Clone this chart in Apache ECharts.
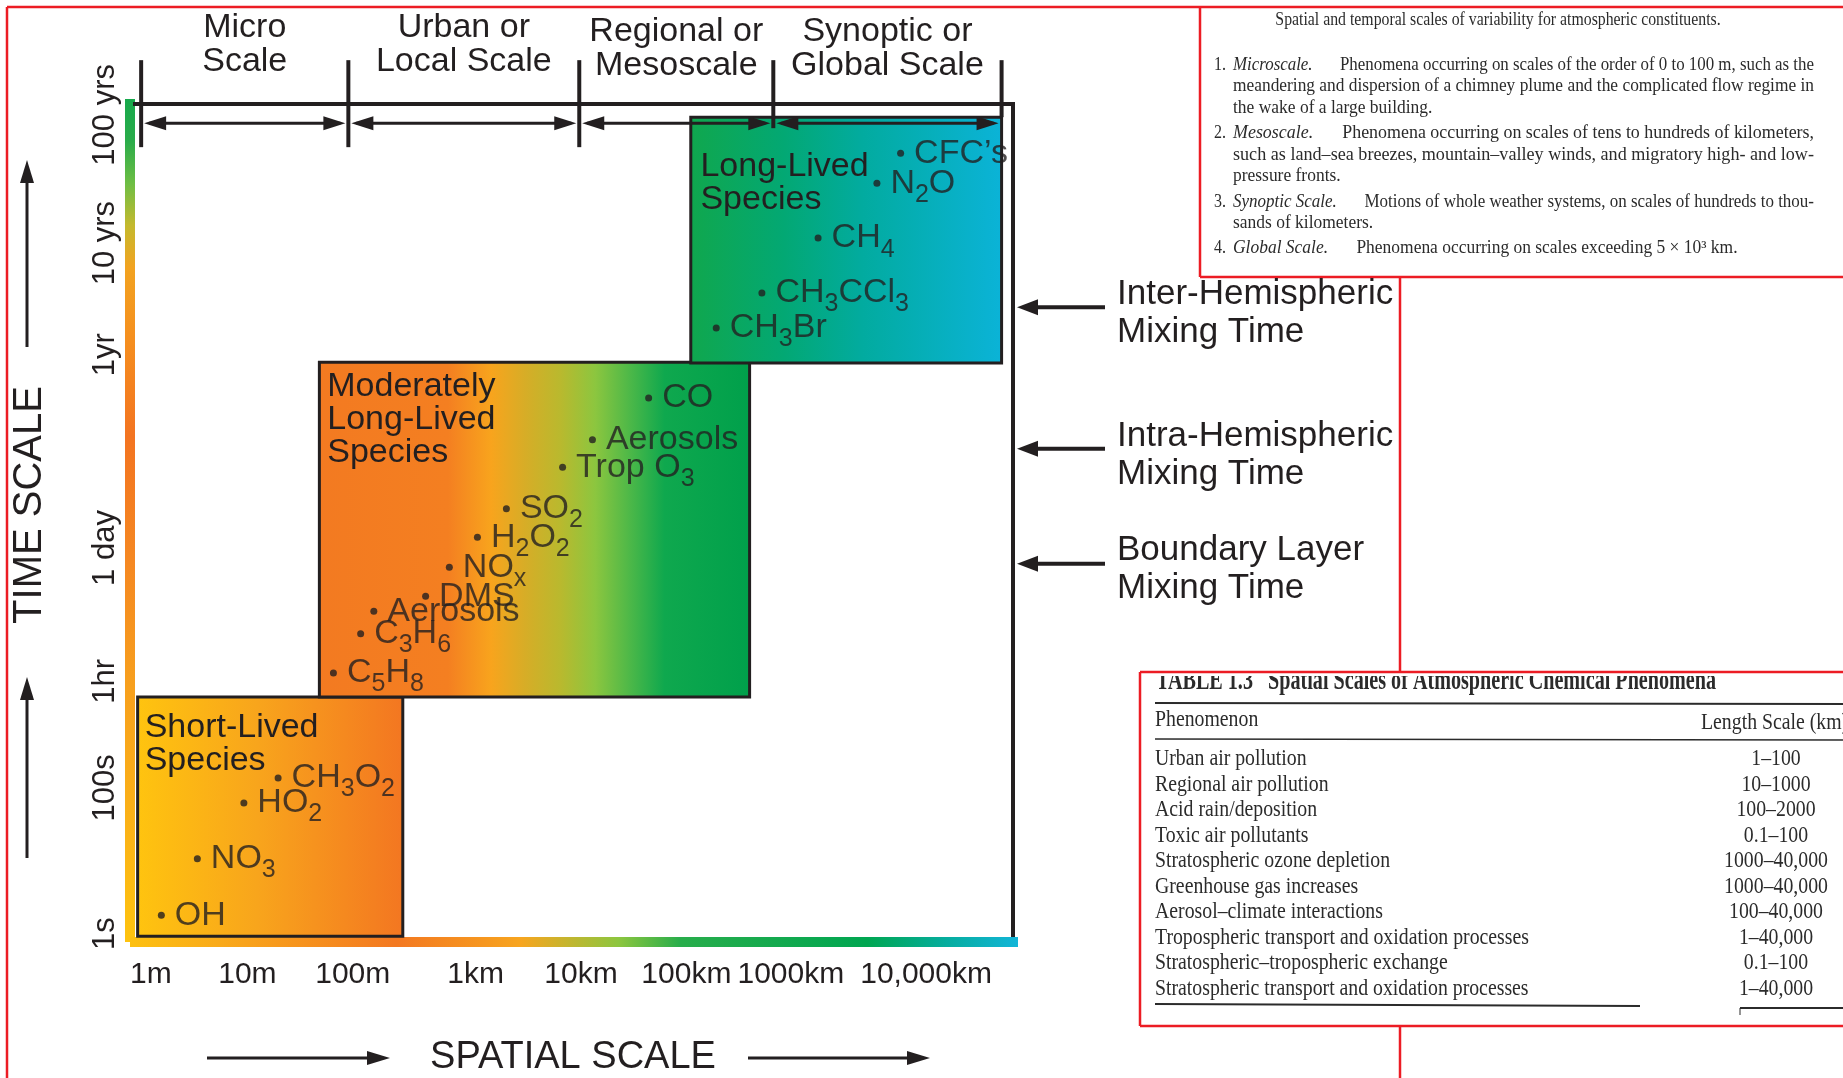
<!DOCTYPE html>
<html>
<head>
<meta charset="utf-8">
<title>Spatial and temporal scales of atmospheric constituents</title>
<script src="https://cdn.jsdelivr.net/npm/echarts@6.0.0/dist/echarts.min.js"></script>
<style>
  html, body { margin: 0; padding: 0; background: #fff; }
  #main { width: 1843px; height: 1078px; }
</style>
</head>
<body>
<div id="main"></div>
<script>
// chart units: x = spatial position across the frame (0..100), y = time position (0..100)
const xTickPos = [1.8, 12.8, 24.8, 38.8, 50.8, 62.8, 74.7, 90.1];
const xTickLabels = ['1m', '10m', '100m', '1km', '10km', '100km', '1000km', '10,000km'];
const yTickPos = [0.4, 17.9, 30.7, 46.7, 69.9, 83.3, 98.7];
const yTickLabels = ['1s', '100s', '1hr', '1 day', '1yr', '10 yrs', '100 yrs'];

const scaleNames = ['Micro\nScale', 'Urban or\nLocal Scale', 'Regional or\nMesoscale', 'Synoptic or\nGlobal Scale'];
const scaleEdges = [0.7, 24.3, 50.6, 72.7, 98.7];
const scaleLevel = 97.7;

const groupNames = ['Short-Lived\nSpecies', 'Moderately\nLong-Lived\nSpecies', 'Long-Lived\nSpecies'];
const groupX0 = [0.3, 21.0, 63.3];
const groupX1 = [30.5, 70.0, 98.7];
const groupY0 = [0.1, 28.8, 68.9];
const groupY1 = [28.8, 69.0, 98.4];
const groupLabelX = [1.1, 21.9, 64.4];
const groupLabelY = [27.1, 68.1, 94.5];

const speciesNames = [
  'CFC\u2019s', 'N{s|2}O', 'CH{s|4}', 'CH{s|3}CCl{s|3}', 'CH{s|3}Br',
  'CO', 'Aerosols', 'Trop O{s|3}', 'SO{s|2}', 'H{s|2}O{s|2}', 'NO{s|x}', 'DMS', 'Aerosols', 'C{s|3}H{s|6}', 'C{s|5}H{s|8}',
  'CH{s|3}O{s|2}', 'HO{s|2}', 'NO{s|3}', 'OH'
];
const speciesX = [87.2, 84.5, 77.8, 71.4, 66.2, 58.5, 52.1, 48.7, 42.3, 39.0, 35.8, 33.1, 27.2, 25.7, 22.6, 16.3, 12.4, 7.1, 3.0];
const speciesY = [94.1, 90.5, 83.9, 77.3, 73.1, 64.7, 59.7, 56.4, 51.4, 48.0, 44.4, 40.9, 39.1, 36.4, 31.7, 19.1, 16.1, 9.4, 2.6];

const mixingNames = ['Inter-Hemispheric\nMixing Time', 'Intra-Hemispheric\nMixing Time', 'Boundary Layer\nMixing Time'];
const mixingLevel = [75.6, 58.6, 44.8];

const defCaption = 'Spatial and temporal scales of variability for atmospheric constituents.';
const defLines = [
  { num: '1.', term: 'Microscale.', text: 'Phenomena occurring on scales of the order of 0 to 100 m, such as the', justify: true },
  { text: 'meandering and dispersion of a chimney plume and the complicated flow regime in', justify: true },
  { text: 'the wake of a large building.' },
  { num: '2.', term: 'Mesoscale.', text: 'Phenomena occurring on scales of tens to hundreds of kilometers,', justify: true },
  { text: 'such as land\u2013sea breezes, mountain\u2013valley winds, and migratory high- and low-', justify: true },
  { text: 'pressure fronts.' },
  { num: '3.', term: 'Synoptic Scale.', text: 'Motions of whole weather systems, on scales of hundreds to thou-', justify: true },
  { text: 'sands of kilometers.' },
  { num: '4.', term: 'Global Scale.', text: 'Phenomena occurring on scales exceeding 5 \u00d7 10\u00b3 km.' }
];
const defParagraph = [0, 0, 0, 1, 1, 1, 2, 2, 3];

const tableTitle = 'TABLE 1.3   Spatial Scales of Atmospheric Chemical Phenomena';
const tablePhenomena = [
  'Urban air pollution', 'Regional air pollution', 'Acid rain/deposition', 'Toxic air pollutants',
  'Stratospheric ozone depletion', 'Greenhouse gas increases', 'Aerosol\u2013climate interactions',
  'Tropospheric transport and oxidation processes', 'Stratospheric\u2013tropospheric exchange',
  'Stratospheric transport and oxidation processes'
];
const tableLengths = ['1\u2013100', '10\u20131000', '100\u20132000', '0.1\u2013100', '1000\u201340,000', '1000\u201340,000',
  '100\u201340,000', '1\u201340,000', '0.1\u2013100', '1\u201340,000'];

const sans = "'Liberation Sans', Arial, Helvetica, sans-serif";
const serif = "'Liberation Serif', 'Times New Roman', Times, serif";
const ink = '#231f20';
const red = '#ec1c24';
const paper = '#2b2b2b';

const hGradient = new echarts.graphic.LinearGradient(0, 0, 1, 0, [
  { offset: 0, color: '#fdc010' }, { offset: 0.1, color: '#f9aa1a' }, { offset: 0.3, color: '#f37821' },
  { offset: 0.4, color: '#f6971f' }, { offset: 0.44, color: '#f7a51f' }, { offset: 0.55, color: '#8dc63f' },
  { offset: 0.62, color: '#28ad4b' }, { offset: 0.83, color: '#00a651' }, { offset: 0.92, color: '#06ad9f' },
  { offset: 1, color: '#12b5d8' }
]);
const vGradient = new echarts.graphic.LinearGradient(0, 1, 0, 0, [
  { offset: 0, color: '#fec30f' }, { offset: 0.12, color: '#fbb416' }, { offset: 0.3, color: '#f7a01d' },
  { offset: 0.45, color: '#f58822' }, { offset: 0.6, color: '#f37421' }, { offset: 0.72, color: '#f5901f' },
  { offset: 0.8, color: '#f2a320' }, { offset: 0.85, color: '#c4b92e' }, { offset: 0.9, color: '#6dbe44' },
  { offset: 0.95, color: '#2aac4a' }, { offset: 1, color: '#17a94c' }
]);
const boxStops = [
  [{ offset: 0, color: '#ffc40f' }, { offset: 0.45, color: '#f8a51c' }, { offset: 1, color: '#f37621' }],
  [{ offset: 0, color: '#f37a21' }, { offset: 0.3, color: '#f47f21' }, { offset: 0.4, color: '#f8a41d' },
   { offset: 0.48, color: '#d6ad27' }, { offset: 0.56, color: '#b9b92e' }, { offset: 0.64, color: '#8cc63f' },
   { offset: 0.72, color: '#4db848' }, { offset: 0.8, color: '#0fa84e' }, { offset: 1, color: '#00a04b' }],
  [{ offset: 0, color: '#10a74d' }, { offset: 0.3, color: '#03a873' }, { offset: 0.55, color: '#02ab9f' },
   { offset: 1, color: '#0bb3d8' }]
];

const measureCtx = document.createElement('canvas').getContext('2d');
function textWidth(str, font) {
  measureCtx.font = font;
  return measureCtx.measureText(str).width;
}
function nearestLabel(v, pos, labels) {
  let best = 0;
  pos.forEach((p, i) => { if (Math.abs(p - v) < Math.abs(pos[best] - v)) best = i; });
  return labels[best];
}

// scanned text panels on the right
const graphics = [];
const defFont = '16px ' + serif;
const defItalic = 'italic 16px ' + serif;
const termGap = 26;
const defWidths = defLines.map(l => (l.term ? textWidth(l.term, defItalic) + termGap : 0) + textWidth(l.text, defFont));
const justified = defLines.map((l, i) => l.justify ? 581 / defWidths[i] : null).filter(v => v);
const meanSquash = justified.reduce((a, b) => a + b, 0) / justified.length;

graphics.push({
  type: 'text', x: 1498, y: 20, scaleY: 1.15,
  style: { text: defCaption, font: '15.8px ' + serif, fill: paper, align: 'center', verticalAlign: 'middle' }
});
defLines.forEach((l, k) => {
  const y = 65 + 21.6 * k + 3.6 * defParagraph[k];
  if (l.num) {
    graphics.push({ type: 'text', x: 1214, y: y, scaleY: 1.15,
      style: { text: l.num, font: defFont, fill: paper, verticalAlign: 'middle' } });
  }
  graphics.push({
    type: 'text', x: 1233, y: y, scaleX: l.justify ? 581 / defWidths[k] : meanSquash, scaleY: 1.15,
    style: {
      text: (l.term ? '{i|' + l.term + '}' : '') + l.text,
      font: defFont, fill: paper, verticalAlign: 'middle',
      rich: { i: { fontFamily: serif, fontSize: 16, fontStyle: 'italic', fill: paper, padding: [0, termGap, 0, 0] } }
    }
  });
});

// table panel (title is cut off by the top of the frame, as in the scan)
const tFont = '19.8px ' + serif;
graphics.push({
  type: 'text', x: 1156, y: 681, scaleX: 560 / textWidth(tableTitle, 'bold 19px ' + serif), scaleY: 1.6, z: 1,
  style: { text: tableTitle, font: 'bold 19px ' + serif, fill: paper, verticalAlign: 'middle' }
});
graphics.push({ type: 'rect', z: 2, shape: { x: 1142, y: 630, width: 720, height: 46 }, style: { fill: '#fff' } });
graphics.push({ type: 'line', shape: { x1: 1155, y1: 703, x2: 1850, y2: 704 }, style: { stroke: paper, lineWidth: 2 } });
graphics.push({ type: 'line', shape: { x1: 1155, y1: 739, x2: 1850, y2: 740 }, style: { stroke: paper, lineWidth: 1.6 } });
graphics.push({ type: 'text', x: 1155, y: 720, scaleY: 1.2, style: { text: 'Phenomenon', font: tFont, fill: paper, verticalAlign: 'middle' } });
graphics.push({ type: 'text', x: 1701, y: 723, scaleY: 1.2, style: { text: 'Length Scale (km)', font: tFont, fill: paper, verticalAlign: 'middle' } });
tablePhenomena.forEach((name, r) => {
  const y = 759 + 25.5 * r;
  graphics.push({ type: 'text', x: 1155, y: y, scaleY: 1.2, style: { text: name, font: tFont, fill: paper, verticalAlign: 'middle' } });
  graphics.push({ type: 'text', x: 1776, y: y, scaleY: 1.2, style: { text: tableLengths[r], font: tFont, fill: paper, align: 'center', verticalAlign: 'middle' } });
});
graphics.push({ type: 'line', shape: { x1: 1155, y1: 1004, x2: 1640, y2: 1006 }, style: { stroke: paper, lineWidth: 2 } });
graphics.push({ type: 'line', shape: { x1: 1740, y1: 1008, x2: 1850, y2: 1008 }, style: { stroke: paper, lineWidth: 2 } });
graphics.push({ type: 'line', shape: { x1: 1740, y1: 1008, x2: 1740, y2: 1015 }, style: { stroke: paper, lineWidth: 1 } });

// red frames
const redLine = (x1, y1, x2, y2) => ({ type: 'line', z: 5, shape: { x1, y1, x2, y2 }, style: { stroke: red, lineWidth: 2.5 } });
graphics.push(redLine(7, 7, 1850, 7), redLine(7, 7, 7, 1085), redLine(1400, 277, 1400, 672), redLine(1400, 1026, 1400, 1085));
graphics.push(redLine(1200, 7, 1200, 277), redLine(1200, 277, 1850, 277));
graphics.push(redLine(1140, 672, 1850, 672), redLine(1140, 672, 1140, 1026), redLine(1140, 1026, 1850, 1026));

// axis titles with arrows
const arrowHead = (pts) => ({ type: 'polygon', shape: { points: pts }, style: { fill: ink } });
const plainLine = (x1, y1, x2, y2) => ({ type: 'line', shape: { x1, y1, x2, y2 }, style: { stroke: ink, lineWidth: 3 } });
graphics.push({ type: 'text', x: 30, y: 505, rotation: Math.PI / 2,
  style: { text: 'TIME SCALE', font: '40px ' + sans, fill: ink, align: 'center', verticalAlign: 'middle' } });
graphics.push(plainLine(27, 347, 27, 176), arrowHead([[27, 160], [20, 183], [34, 183]]));
graphics.push(plainLine(27, 858, 27, 693), arrowHead([[27, 677], [20, 700], [34, 700]]));
graphics.push({ type: 'text', x: 573, y: 1058,
  style: { text: 'SPATIAL SCALE', font: '38px ' + sans, fill: ink, align: 'center', verticalAlign: 'middle' } });
graphics.push(plainLine(207, 1058, 372, 1058), arrowHead([[390, 1058], [367, 1051], [367, 1065]]));
graphics.push(plainLine(748, 1058, 912, 1058), arrowHead([[930, 1058], [907, 1051], [907, 1065]]));

const chart = echarts.init(document.getElementById('main'));
const option = {
  backgroundColor: '#fff',
  animation: false,
  grid: { left: 135, top: 104, width: 878, height: 833, outerBoundsMode: 'none' },
  xAxis: [
    {
      type: 'value', min: 0, max: 100, position: 'bottom', offset: 5,
      axisLine: { show: true, onZero: false, lineStyle: { color: hGradient, width: 10, cap: 'square' } },
      axisTick: { show: false }, splitLine: { show: false },
      axisLabel: {
        customValues: xTickPos, formatter: v => nearestLabel(v, xTickPos, xTickLabels),
        margin: 18, fontSize: 30, fontFamily: sans, color: ink
      }
    },
    {
      type: 'value', min: 0, max: 100, position: 'top',
      axisLine: { show: true, onZero: false, lineStyle: { color: ink, width: 4, cap: 'square' } },
      axisTick: { show: false }, axisLabel: { show: false }, splitLine: { show: false }
    }
  ],
  yAxis: [
    {
      type: 'value', min: 0, max: 100, position: 'left', offset: 5,
      axisLine: { show: true, onZero: false, lineStyle: { color: vGradient, width: 10, cap: 'square' } },
      axisTick: { show: false }, splitLine: { show: false },
      axisLabel: {
        customValues: yTickPos, formatter: v => nearestLabel(v, yTickPos, yTickLabels),
        rotate: 90, margin: 9, fontSize: 31, fontFamily: sans, color: ink
      }
    },
    {
      type: 'value', min: 0, max: 100, position: 'right',
      axisLine: { show: true, onZero: false, lineStyle: { color: ink, width: 4, cap: 'square' } },
      axisTick: { show: false }, axisLabel: { show: false }, splitLine: { show: false }
    }
  ],
  graphic: graphics,
  series: [
    {
      type: 'custom', name: 'lifetime groups', clip: false, silent: true, z: 2,
      data: groupNames.map((n, i) => [groupX0[i], groupY0[i], groupX1[i], groupY1[i], groupLabelX[i], groupLabelY[i]]),
      encode: { x: [0, 2], y: [1, 3] },
      renderItem: (params, api) => {
        const i = params.dataIndex;
        const tl = api.coord([api.value(0), api.value(3)]);
        const br = api.coord([api.value(2), api.value(1)]);
        const lp = api.coord([api.value(4), api.value(5)]);
        return {
          type: 'group',
          children: [
            {
              type: 'rect',
              shape: { x: tl[0], y: tl[1], width: br[0] - tl[0], height: br[1] - tl[1] },
              style: { fill: new echarts.graphic.LinearGradient(0, 0, 1, 0, boxStops[i]), stroke: ink, lineWidth: 3 }
            },
            {
              type: 'text', x: lp[0], y: lp[1],
              style: { text: groupNames[i], fontFamily: sans, fontSize: 34, lineHeight: 33, fill: ink, align: 'left', verticalAlign: 'top' }
            }
          ]
        };
      }
    },
    {
      type: 'scatter', name: 'species', silent: true, z: 4,
      data: speciesX.map((x, i) => [x, speciesY[i]]),
      symbol: 'circle', symbolSize: 7,
      itemStyle: { color: ink },
      label: {
        show: true, position: 'right', distance: 10,
        formatter: p => speciesNames[p.dataIndex],
        fontFamily: sans, fontSize: 34, lineHeight: 48, color: ink,
        rich: { s: { fontFamily: sans, fontSize: 25, lineHeight: 25, verticalAlign: 'bottom', color: ink } }
      },
      emphasis: { disabled: true }
    },
    {
      type: 'custom', name: 'spatial scales', clip: false, silent: true, z: 5,
      data: scaleNames.map((n, i) => [scaleEdges[i], scaleEdges[i + 1], scaleLevel]),
      encode: { x: [0, 1], y: 2 },
      renderItem: (params, api) => {
        const i = params.dataIndex;
        const a = api.coord([api.value(0), api.value(2)]);
        const b = api.coord([api.value(1), api.value(2)]);
        const y = a[1];
        const head = (tip, dir) => ({
          type: 'polygon',
          shape: { points: [[tip, y], [tip - dir * 22, y - 7], [tip - dir * 22, y + 7]] },
          style: { fill: ink }
        });
        const tick = (x, low) => ({
          type: 'line', shape: { x1: x, y1: y - 63, x2: x, y2: y + low }, style: { stroke: ink, lineWidth: 4 }
        });
        const children = [
          { type: 'line', shape: { x1: a[0] + 8, y1: y, x2: b[0] - 8, y2: y }, style: { stroke: ink, lineWidth: 3 } },
          head(a[0] + 3, -1), head(b[0] - 3, 1),
          tick(a[0], i < 3 ? 24 : 5),
          {
            type: 'text', x: (a[0] + b[0]) / 2, y: y - 79 + (i >= 2 ? 4 : 0),
            style: { text: scaleNames[i], fontFamily: sans, fontSize: 34, lineHeight: 34, fill: ink, align: 'center', verticalAlign: 'middle' }
          }
        ];
        if (i === scaleNames.length - 1) children.push(tick(b[0], -6));
        return { type: 'group', children };
      }
    },
    {
      type: 'custom', name: 'mixing times', clip: false, silent: true, z: 5,
      data: mixingLevel.map(v => [100, v]),
      encode: { x: 0, y: 1 },
      renderItem: (params, api) => {
        const p = api.coord([api.value(0), api.value(1)]);
        const x = p[0], y = p[1];
        return {
          type: 'group',
          children: [
            { type: 'line', shape: { x1: x + 20, y1: y, x2: x + 92, y2: y }, style: { stroke: ink, lineWidth: 4 } },
            { type: 'polygon', shape: { points: [[x + 4, y], [x + 25, y - 8], [x + 25, y + 8]] }, style: { fill: ink } },
            {
              type: 'text', x: x + 104, y: y + 6,
              style: { text: mixingNames[params.dataIndex], fontFamily: sans, fontSize: 35, lineHeight: 38, fill: ink, align: 'left', verticalAlign: 'middle' }
            }
          ]
        };
      }
    }
  ]
};
chart.setOption(option);
</script>
</body>
</html>
